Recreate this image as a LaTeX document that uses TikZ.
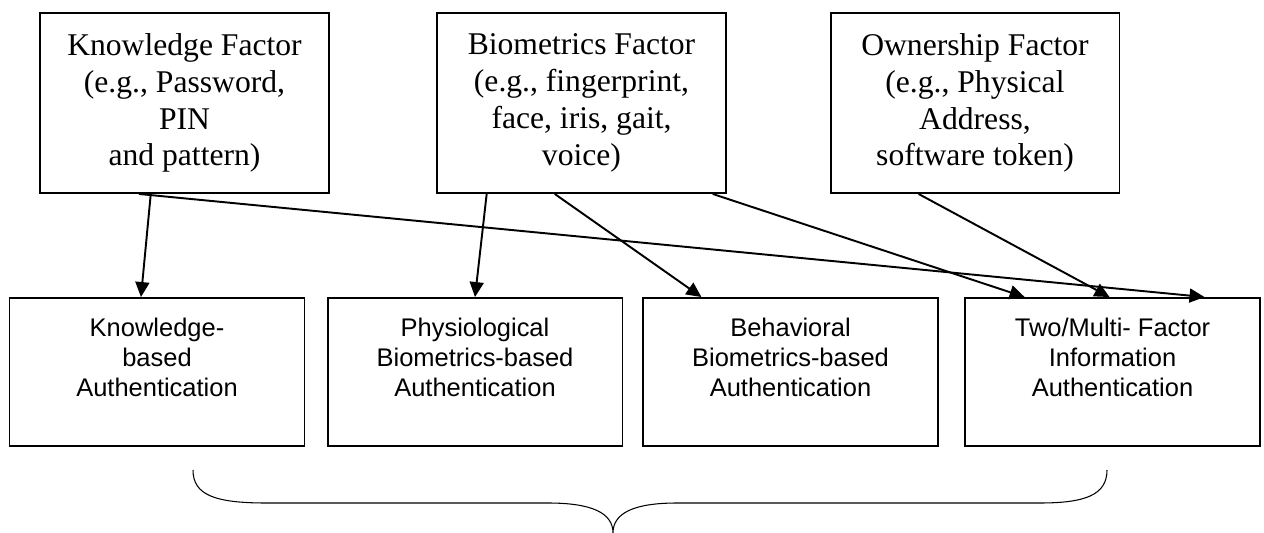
\documentclass[tikz,border=0pt]{standalone}
\usepackage{fontspec}
\setmainfont{Liberation Serif}
\setsansfont{Liberation Sans}
\usetikzlibrary{arrows.meta, calc}

\tikzset{
    topbox/.style = {draw, line width = 1.1pt, align = center, minimum width = 5.78cm, minimum height = 3.6cm, inner sep = 0pt, font = \fontsize{18}{21}\selectfont},
    authbox/.style = {draw, line width = 1.1pt, align = center, minimum width = 5.9cm, minimum height = 2.96cm, inner sep = 0pt, font = \sffamily\fontsize{14.5}{17}\selectfont},
    link/.style = {-{Triangle[length = 0.3cm, width = 0.28cm]}, line width = 1.1pt},
    curly/.style = {line width = 0.6pt}
}

\begin{document}
\begin{tikzpicture}[x = 0.02cm, y = -0.02cm]
    \useasboundingbox (0, 0) rectangle (1264, 533);

    % factors
    \node [topbox] (know) at (184.5, 103) {Knowledge Factor\\(e.g., Password,\\PIN\\and pattern)};
    \node [topbox] (bio) at (581.5, 103) {Biometrics Factor\\(e.g., fingerprint,\\face, iris, gait,\\voice)};
    \node [topbox] (own) at (975, 103) {Ownership Factor\\(e.g., Physical\\Address,\\software token)};

    % authentication types
    \node [authbox] (kba) at (157, 372) {Knowledge-\\based\\Authentication\\~};
    \node [authbox] (pba) at (475, 372) {Physiological\\Biometrics-based\\Authentication\\~};
    \node [authbox] (bba) at (790.5, 372) {Behavioral\\Biometrics-based\\Authentication\\~};
    \node [authbox] (mfa) at (1112.5, 372) {Two/Multi- Factor\\Information\\Authentication\\~};

    \draw [link] ($(know.south west)!0.384!(know.south east)$) -- ($(kba.north west)!0.446!(kba.north east)$);
    \draw [link] ($(know.south west)!0.343!(know.south east)$) -- ($(mfa.north west)!0.81!(mfa.north east)$);
    \draw [link] ($(bio.south west)!0.174!(bio.south east)$) -- ($(pba.north west)!0.5!(pba.north east)$);
    \draw [link] ($(bio.south west)!0.408!(bio.south east)$) -- ($(bba.north west)!0.2!(bba.north east)$);
    \draw [link] ($(bio.south west)!0.951!(bio.south east)$) -- ($(mfa.north west)!0.204!(mfa.north east)$);
    \draw [link] ($(own.south west)!0.306!(own.south east)$) -- ($(mfa.north west)!0.49!(mfa.north east)$);

    % brace
    \draw [curly] (193, 470) .. controls (193, 495) and (215, 503) .. (266, 503) -- (548, 503)
        .. controls (592, 503) and (613, 513) .. (613, 533)
        .. controls (613, 513) and (634, 503) .. (677, 503) -- (1040, 503)
        .. controls (1085, 503) and (1107, 495) .. (1107, 470);
\end{tikzpicture}
\end{document}
